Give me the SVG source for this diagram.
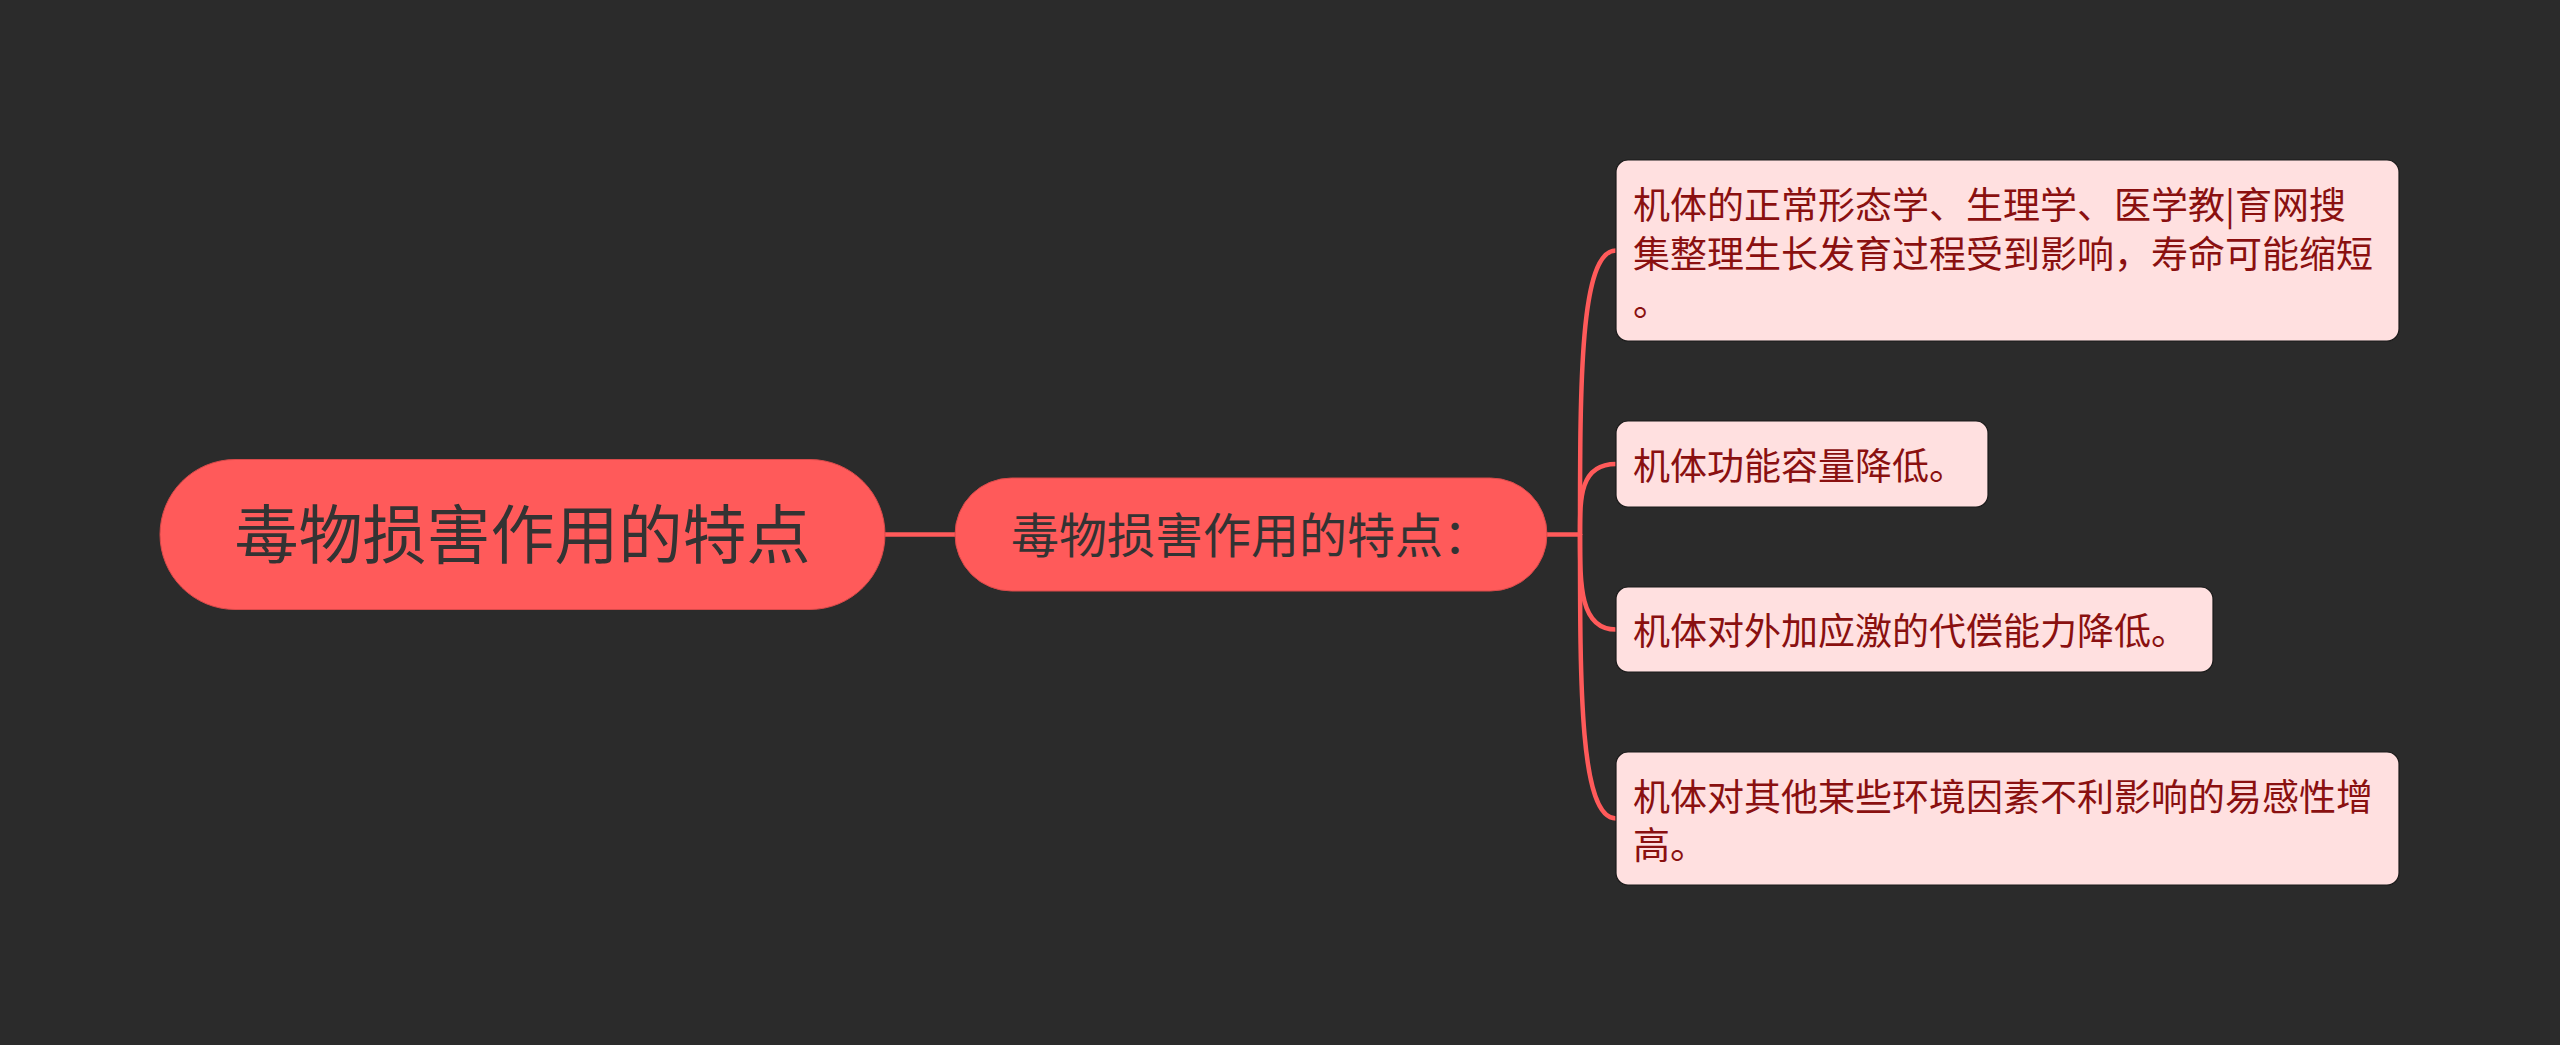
<svg xmlns="http://www.w3.org/2000/svg" width="2560" height="1045" viewBox="0 0 2560 1045">
<style>
.bg{fill:#2b2b2b}
.main{fill:#ff5a5a;stroke:#d94a4a;stroke-width:1}
.leaf{fill:#ffe0e0;stroke:#1a1a1a;stroke-width:1.2}
.conn{fill:none;stroke:#ff5a5a;stroke-width:4.5;stroke-linecap:round}
.t{font-family:"Noto Sans CJK SC","Microsoft YaHei",sans-serif}
.tm{fill:#333333}
.tl{fill:#8a1010;font-size:37px}
</style>
<rect class="bg" x="0" y="0" width="2560" height="1045"/>
<g id="connectors">
<path class="conn" d="M885 534.5 L955 534.5"/>
<path class="conn" d="M1546 534.5 L1580 534.5"/>
<path class="conn" d="M1580 534.5 C1580 381,1580 250.5,1616 250.5"/>
<path class="conn" d="M1580 534.5 C1580 497,1580 464,1616 464"/>
<path class="conn" d="M1580 534.5 C1580 586,1580 629.5,1616 629.5"/>
<path class="conn" d="M1580 534.5 C1580 689,1580 818.5,1616 818.5"/>
</g>
<g id="root">
<rect class="main" x="160" y="459.5" width="725" height="150" rx="75"/>
<text class="t tm" x="522.5" y="558" font-size="64" text-anchor="middle">毒物损害作用的特点</text>
</g>
<g id="middle">
<rect class="main" x="955" y="478" width="592" height="113" rx="56.5"/>
<text class="t tm" x="1251" y="553" font-size="48" text-anchor="middle">毒物损害作用的特点：</text>
</g>
<g id="leaf1">
<rect class="leaf" x="1616" y="160" width="783" height="181" rx="12"/>
<text class="t tl" x="1633" y="219"><tspan x="1633" y="219">机体的正常形态学、生理学、医学教|育网搜</tspan><tspan x="1633" y="267.5">集整理生长发育过程受到影响，寿命可能缩短</tspan><tspan x="1633" y="316">。</tspan></text>
</g>
<g id="leaf2">
<rect class="leaf" x="1616" y="421" width="372" height="86" rx="12"/>
<text class="t tl" x="1633" y="480">机体功能容量降低。</text>
</g>
<g id="leaf3">
<rect class="leaf" x="1616" y="587" width="597" height="85" rx="12"/>
<text class="t tl" x="1633" y="645">机体对外加应激的代偿能力降低。</text>
</g>
<g id="leaf4">
<rect class="leaf" x="1616" y="752" width="783" height="133" rx="12"/>
<text class="t tl" x="1633" y="810.5"><tspan x="1633" y="810.5">机体对其他某些环境因素不利影响的易感性增</tspan><tspan x="1633" y="859">高。</tspan></text>
</g>
</svg>
